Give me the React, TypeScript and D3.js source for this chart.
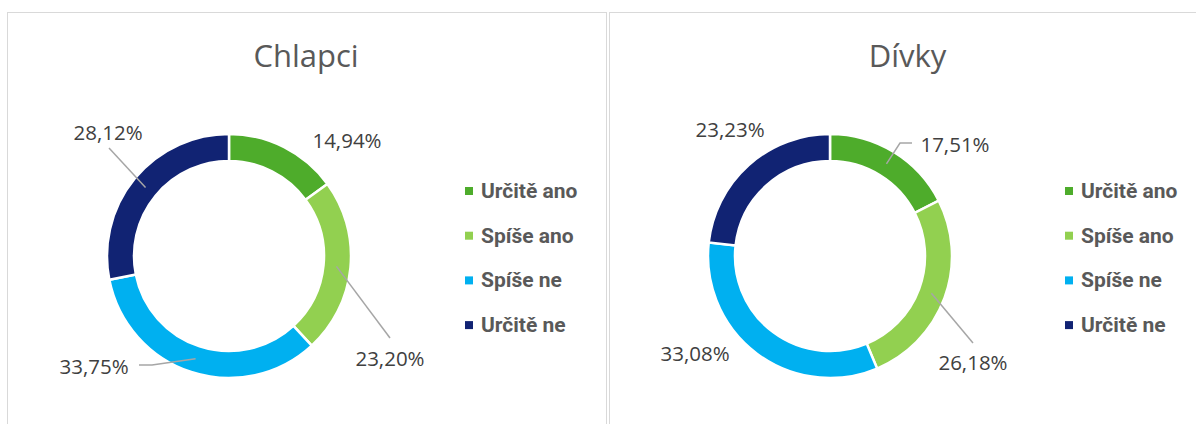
import React from "react";
import * as d3 from "d3";

const categories = ["Určitě ano", "Spíše ano", "Spíše ne", "Určitě ne"];
const colors = ["#4EAC2B", "#92D050", "#00B0F0", "#112373"];
const chlapciValues = [14.94, 23.2, 33.75, 28.12];
const divkyValues = [17.51, 26.18, 33.08, 23.23];
const titles = ["Chlapci", "Dívky"];

// label layout: text offset from donut centre, optional leader polyline (offsets from centre, after the arc centroid)
type LabelLayout = { dx: number; dy: number; line: [number, number][] | null };
const chlapciLabels: LabelLayout[] = [
  { dx: 118, dy: -116, line: null },
  { dx: 161, dy: 102, line: [[161, 82]] },
  { dx: -135, dy: 109.5, line: [[-77, 109], [-90, 109]] },
  { dx: -121, dy: -124, line: [[-120, -108]] },
];
const divkyLabels: LabelLayout[] = [
  { dx: 125, dy: -112, line: [[70, -113], [82, -113]] },
  { dx: 143, dy: 105.5, line: [[143, 87]] },
  { dx: -135, dy: 96.5, line: null },
  { dx: -100, dy: -127, line: null },
];

const W = 1196;
const H = 424;
const R = 122;
const r = 95;

function Donut({ cx, cy, values, labels }: { cx: number; cy: number; values: number[]; labels: LabelLayout[] }) {
  const pie = d3.pie<number>().sort(null).value((d) => d);
  const arcs = pie(values);
  const arc = d3.arc<d3.PieArcDatum<number>>().innerRadius(r).outerRadius(R);
  const mid = d3.arc<d3.PieArcDatum<number>>().innerRadius(108).outerRadius(108);
  const fmt = (v: number) => v.toFixed(2).replace(".", ",") + "%";
  return (
    <g transform={`translate(${cx},${cy})`}>
      {arcs.map((a, i) => (
        <path key={i} d={arc(a) || ""} fill={colors[i]} stroke="#fff" strokeWidth={2.5} />
      ))}
      {arcs.map((a, i) => {
        const L = labels[i];
        const c = mid.centroid(a);
        return (
          <g key={"l" + i}>
            {L.line && (
              <polyline
                points={[c, ...L.line].map((p) => p.join(",")).join(" ")}
                fill="none"
                stroke="#A6A6A6"
                strokeWidth={1.5}
              />
            )}
            <text
              x={L.dx}
              y={L.dy}
              textAnchor="middle"
              dominantBaseline="central"
              fontFamily="'Open Sans', sans-serif"
              fontSize={20.5}
              fill="#404040"
            >
              {fmt(a.data)}
            </text>
          </g>
        );
      })}
    </g>
  );
}

function Legend({ x, y }: { x: number; y: number }) {
  return (
    <g transform={`translate(${x},${y})`}>
      {categories.map((c, i) => (
        <g key={c} transform={`translate(0,${i * 44.7})`}>
          <rect x={0} y={-4} width={8} height={8} fill={colors[i]} />
          <text
            x={16}
            y={0}
            dominantBaseline="central"
            fontFamily="Roboto, sans-serif"
            fontWeight={700}
            fontSize={21}
            fill="#595959"
          >
            {c}
          </text>
        </g>
      ))}
    </g>
  );
}

export default function App() {
  return (
    <svg
      width={W}
      height={H}
      style={{ position: "absolute", left: 0, top: 0, background: "#fff" }}
    >
      <rect x={7.5} y={12.5} width={599} height={H} fill="#fff" stroke="#D9D9D9" strokeWidth={1} />
      <rect x={609.5} y={12.5} width={600} height={H} fill="#fff" stroke="#D9D9D9" strokeWidth={1} />
      <text x={306} y={67} textAnchor="middle" fontFamily="'Open Sans', sans-serif" fontSize={31} fill="#595959">
        {titles[0]}
      </text>
      <text x={907.5} y={67} textAnchor="middle" fontFamily="'Open Sans', sans-serif" fontSize={31} fill="#595959">
        {titles[1]}
      </text>
      <Donut cx={229} cy={256} values={chlapciValues} labels={chlapciLabels} />
      <Donut cx={830} cy={256} values={divkyValues} labels={divkyLabels} />
      <Legend x={465} y={191} />
      <Legend x={1065} y={191} />
    </svg>
  );
}
